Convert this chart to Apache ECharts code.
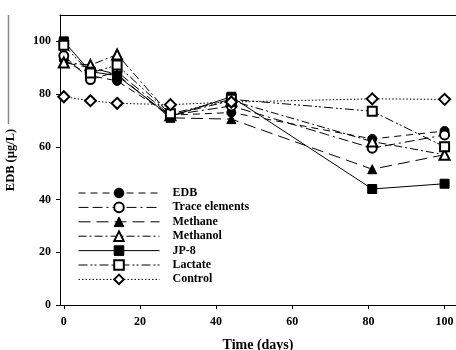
<!DOCTYPE html>
<html><head><meta charset="utf-8">
<script src="https://cdn.jsdelivr.net/npm/echarts@6/dist/echarts.min.js"></script>
<style>html,body{margin:0;padding:0;background:#fff}#c{width:456px;height:350px}</style>
</head><body><div id="c"></div>
<script>
const days = [0, 7, 14, 28, 44, 81, 100];
const seriesNames = ["EDB", "Trace elements", "Methane", "Methanol", "JP-8", "Lactate", "Control"];
const edb = [93, 87, 85, 72, 73, 63, 66];
const traceElements = [94.5, 85.5, 88.5, 72, 75.5, 59.5, 64.5];
const methane = [92, 90, 87.5, 71, 70.5, 51.5, 57];
const methanol = [92, 91, 95, 72, 77.5, 62, 57];
const jp8 = [100, 88.5, 87, 71.5, 79, 44, 46];
const lactate = [98.5, 88, 91, 72.5, 78, 73.5, 60];
const control = [79, 77.5, 76.5, 76, 77, 78.2, 78];
const xTicks = [0, 20, 40, 60, 80, 100];
const yTicks = [0, 20, 40, 60, 80, 100];

const values = [edb, traceElements, methane, methanol, jp8, lactate, control];
const symbols = ['circle', 'emptyCircle', 'triangle', 'emptyTriangle', 'rect', 'emptyRect', 'emptyDiamond'];
const sizes = [9, 9, 9, 10, 9, 9, 11];
const dashes = [[7,5], [10,4,10,4,2,4], [12,6], [8,3,2,3], 'solid', [9,3,2,2,2,3], [1.5,2]];
const font = '"Liberation Serif", "DejaVu Serif", serif';

const series = seriesNames.map((n, i) => ({
  name: n, type: 'line',
  data: days.map((d, j) => [d, values[i][j]]),
  symbol: symbols[i], symbolSize: sizes[i],
  lineStyle: { color: '#000', width: 1, type: dashes[i] },
  itemStyle: { color: '#000', borderColor: '#000', borderWidth: 1 },
  emphasis: { disabled: true },
  animation: false, z: 2 + i
}));

const chart = echarts.init(document.getElementById('c'), null, { renderer: 'canvas' });
chart.setOption({
  animation: false,
  backgroundColor: '#fff',
  grid: { left: 60, right: 0, top: 15, bottom: 45, outerBoundsMode: 'none', containLabel: false },
  legend: {
    left: 73, top: 182, orient: 'vertical',
    itemWidth: 81, itemHeight: 12, itemGap: 2.4,
    selectedMode: false,
    lineStyle: { width: 1 },
    itemStyle: { borderWidth: 1 },
    textStyle: { fontFamily: font, fontWeight: 'bold', fontSize: 12, color: '#000', padding: [0, 0, 0, 8] },
    data: seriesNames
  },
  xAxis: [{
    type: 'value', min: -1, max: 103,
    name: 'Time (days)', nameLocation: 'middle', nameGap: 33,
    nameTextStyle: { fontFamily: font, fontWeight: 'bold', fontSize: 14, color: '#000' },
    axisLine: { show: true, onZero: false, lineStyle: { color: '#000', width: 1 } },
    axisTick: { show: true, inside: false, length: 4, customValues: xTicks, lineStyle: { color: '#000' } },
    axisLabel: { customValues: xTicks, fontFamily: font, fontWeight: 'bold', fontSize: 12, color: '#000', margin: 11 },
    splitLine: { show: false }
  }, {
    type: 'value', min: -1, max: 103, position: 'top',
    axisLine: { show: true, onZero: false, lineStyle: { color: '#000', width: 1 } },
    axisTick: { show: false }, axisLabel: { show: false }, splitLine: { show: false }
  }],
  yAxis: {
    type: 'value', min: 0, max: 110,
    name: 'EDB (µg/L)', nameLocation: 'middle', nameGap: 43, nameRotate: 90,
    nameTextStyle: { fontFamily: font, fontWeight: 'bold', fontSize: 12.5, color: '#000' },
    axisLine: { show: true, onZero: false, lineStyle: { color: '#000', width: 1 } },
    axisTick: { show: true, length: 4, customValues: yTicks, lineStyle: { color: '#000' } },
    axisLabel: { customValues: yTicks, fontFamily: font, fontWeight: 'bold', fontSize: 12, color: '#000', margin: 9 },
    splitLine: { show: false }
  },
  graphic: [{
    type: 'line', shape: { x1: 8.5, y1: 15, x2: 8.5, y2: 124 },
    style: { stroke: '#888', lineWidth: 1.5 }
  }],
  series: series
});
</script></body></html>
